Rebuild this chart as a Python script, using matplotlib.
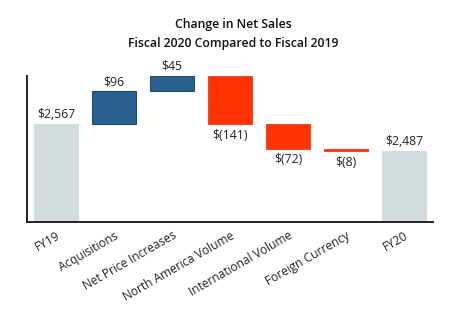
import matplotlib
matplotlib.use('Agg')
import matplotlib.pyplot as plt
import numpy as np

plt.rcParams['font.family'] = ['Open Sans', 'DejaVu Sans']

categories = ['FY19', 'Acquisitions', 'Net Price Increases', 'North America Volume',
              'International Volume', 'Foreign Currency', 'FY20']
changes = [2567, 96, 45, -141, -72, -8, 2487]
labels = ['$2,567', '$96', '$45', '$(141)', '$(72)', '$(8)', '$2,487']
kinds = ['total', 'up', 'up', 'down', 'down', 'down', 'total']

colors = {'total': '#D1DCDE', 'up': '#2B6190', 'down': '#FF3300'}
edges = {'total': '#D1DCDE', 'up': '#1F4E75', 'down': '#F04A2A'}

ymin, ymax = 2280, 2708

fig = plt.figure(figsize=(4.66, 3.33), dpi=100)
ax = fig.add_axes([0.058, 0.333, 0.871, 0.439])

x = np.arange(len(categories))
running = 0
for i, (v, k) in enumerate(zip(changes, kinds)):
    if k == 'total':
        running = v
        ax.bar(i, v - ymin, bottom=ymin, width=0.77, color=colors[k], edgecolor=edges[k], linewidth=0.8)
        ax.text(i, v + 9, labels[i], ha='center', va='bottom', fontsize=8.8, color='#222222', clip_on=False)
    elif k == 'up':
        ax.bar(i, v, bottom=running, width=0.77, color=colors[k], edgecolor=edges[k], linewidth=0.8)
        running += v
        ax.text(i, running + 9, labels[i], ha='center', va='bottom', fontsize=8.8, color='#222222', clip_on=False)
    else:
        ax.bar(i, v, bottom=running, width=0.77, color=colors[k], edgecolor=edges[k], linewidth=0.8)
        running += v
        ax.text(i, running - 13, labels[i], ha='center', va='top', fontsize=8.8, color='#222222', clip_on=False)

ax.set_xlim(-0.5, len(categories) - 0.5)
ax.set_ylim(ymin, ymax)
ax.set_xticks(x)
ax.set_xticklabels(categories, rotation=30, ha='right', rotation_mode='anchor', fontsize=8.6, color='#222222')
ax.tick_params(axis='x', length=0, pad=5)
ax.set_yticks([])
for s in ['top', 'right']:
    ax.spines[s].set_visible(False)
for s in ['left', 'bottom']:
    ax.spines[s].set_linewidth(1.4)
    ax.spines[s].set_color('#222222')

fig.text(0.5, 0.925, 'Change in Net Sales', ha='center', va='center', fontsize=8.8, fontweight='semibold', color='#111111')
fig.text(0.5, 0.870, 'Fiscal 2020 Compared to Fiscal 2019', ha='center', va='center', fontsize=8.8, fontweight='semibold', color='#111111')

fig.savefig('out.png', dpi=100)
